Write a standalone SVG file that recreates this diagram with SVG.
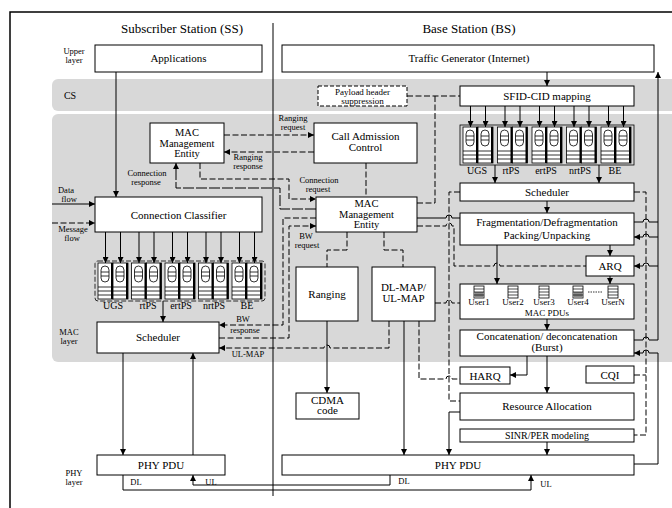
<svg xmlns="http://www.w3.org/2000/svg" width="672" height="508" viewBox="0 0 672 508" font-family="'Liberation Serif', 'Times New Roman', serif">
<defs>
<style>
.t{font-family:"Liberation Serif","Times New Roman",serif;font-size:11px;text-anchor:middle;fill:#000}
.m{font-size:10.5px}
.s{font-size:10px}
.l{font-size:8.5px}
.u{font-size:9px}
.box{fill:#fff;stroke:#000;stroke-width:1}
.ln{fill:none;stroke:#000;stroke-width:1}
.ds{stroke-dasharray:6 2.5}
.ld{stroke-dasharray:11 2}
.arr{marker-end:url(#ah)}
.band{fill:#d8d8d8}
</style>
<marker id="ah" viewBox="0 0 6 6" refX="6" refY="3" markerWidth="6" markerHeight="6" markerUnits="userSpaceOnUse" orient="auto-start-reverse"><path d="M0,0L6,3L0,6z" fill="#000"/></marker>
<g id="qcol">
<rect x="0" y="0" width="15" height="36" fill="#fff" stroke="#000" stroke-width="0.8"/>
<rect x="3" y="3" width="8" height="16" rx="4" fill="#fff" stroke="#000" stroke-width="0.8"/>
<path d="M3,9H11M3,13H11M0,24H15M0,28H15M0,32H15" stroke="#000" stroke-width="0.8" fill="none"/>
<path d="M14,0V36" stroke="#000" stroke-width="2"/>
</g>
<g id="qgrp"><use href="#qcol"/><use href="#qcol" x="15"/></g>
<g id="pdu"><rect width="10" height="12" fill="#fff" stroke="#000" stroke-width="0.8"/><path d="M0,3H10M0,6H10M0,9H10" stroke="#000" stroke-width="0.7"/></g>
<g id="pdug"><rect width="10" height="12" fill="#fff" stroke="#000" stroke-width="0.8"/><rect x="0.4" y="6" width="9.2" height="5.6" fill="#8a8a8a"/><path d="M0,3H10M0,6H10M0,9H10" stroke="#000" stroke-width="0.7"/></g>
</defs>

<rect width="672" height="508" fill="#fff"/>
<!-- bands -->
<rect class="band" x="52" y="79" width="640" height="32" rx="6"/>
<rect class="band" x="52" y="114" width="640" height="248" rx="6"/>
<path d="M10,508V12H672" fill="none" stroke="#000" stroke-width="1.5"/>

<!-- layer labels -->
<g id="layer-labels">
<text class="t" x="182" y="33" style="font-size:13px">Subscriber Station (SS)</text>
<text class="t" x="469" y="33" style="font-size:13px">Base Station (BS)</text>
<text class="t l" x="74" y="54">Upper</text><text class="t l" x="74" y="63">layer</text>
<text class="t s" x="70" y="99">CS</text>
<text class="t l" x="69" y="335">MAC</text><text class="t l" x="69" y="344">layer</text>
<text class="t l" x="74" y="476">PHY</text><text class="t l" x="74" y="485">layer</text>
</g>

<!-- connectors -->
<g id="connectors">
<path class="ln" d="M273,23V496"/>
<!-- SS -->
<path class="ln arr" d="M116,72V197"/>
<path class="ln arr" d="M52,204H95"/>
<path class="ln ds arr" d="M52,223H95"/>
<path class="ln arr" d="M105.5,232V263"/><path class="ln arr" d="M120.5,232V263"/>
<path class="ln arr" d="M139,232V263"/><path class="ln arr" d="M154,232V263"/>
<path class="ln arr" d="M172.5,232V263"/><path class="ln arr" d="M187.5,232V263"/>
<path class="ln arr" d="M206,232V263"/><path class="ln arr" d="M221,232V263"/>
<path class="ln arr" d="M239.5,232V263"/><path class="ln arr" d="M254.5,232V263"/>
<path class="ln arr" d="M163,301V322"/>
<path class="ln arr" d="M123,353V455"/>
<path class="ln arr" d="M193,455V353"/>
<path class="ln ds arr" d="M224,135H314"/>
<path class="ln ds arr" d="M314,152H224"/>
<path class="ln ds arr" d="M200,163V179H289V199H316"/>
<path class="ln ld arr" d="M316,209H280V188H176V163"/>
<path class="ln ds arr" d="M316,218H283V325H219"/>
<path class="ln ds arr" d="M219,338H289V226H316"/>
<path class="ln ds arr" d="M389,321V348H330A3,3 0 0 0 324,348H219"/>
<!-- BS -->
<path class="ln arr" d="M547,72V86"/>
<path class="ln ds" d="M407,96H460M435,96V203H417"/>
<path class="ln ds" d="M366,163V197"/>
<path class="ln arr" d="M470.5,106V127"/><path class="ln arr" d="M485.5,106V127"/>
<path class="ln arr" d="M505,106V127"/><path class="ln arr" d="M520,106V127"/>
<path class="ln arr" d="M539.5,106V127"/><path class="ln arr" d="M554.5,106V127"/>
<path class="ln arr" d="M574,106V127"/><path class="ln arr" d="M589,106V127"/>
<path class="ln arr" d="M608.5,106V127"/><path class="ln arr" d="M623.5,106V127"/>
<path class="ln arr" d="M495,165V183"/><path class="ln arr" d="M599,165V183"/>
<path class="ln arr" d="M547,201V213"/>
<path class="ln arr" d="M610,245V256"/>
<path class="ln arr" d="M497,245V284"/>
<path class="ln arr" d="M610,276V284"/>
<path class="ln arr" d="M547,319V330"/>
<path class="ln arr" d="M547,356V393"/>
<path class="ln arr" d="M527,356V375H510"/>
<path class="ln arr" d="M547,442V455"/>
<path class="ln arr" d="M460,412H449V455"/>
<path class="ln arr" d="M404,321V455"/>
<path class="ln ds" d="M347,232V250H327V267"/>
<path class="ln ds" d="M384,232V250H403V267"/>
<path class="ln arr" d="M327,321V393"/>
<path class="ln ds" d="M419,321V379H446A3,3 0 0 1 452,379H460"/>
<path class="ln ds" d="M435,303H446A3,3 0 0 1 452,303H460"/>
<path class="ln ds" d="M460,192H449V401H460"/>
<path class="ln" d="M417,218H446A3,3 0 0 1 452,218H460"/>
<path class="ln ds" d="M417,226H446A3,3 0 0 1 452,226H454V266H494A3,3 0 0 1 500,266H586"/>
<path class="ln ds" d="M634,192H646V435H634M634,375H646"/>
<path class="ln arr" d="M634,222H643A3,3 0 0 1 649,222H658V72"/>
<path class="ln" d="M658,222V340H649A3,3 0 0 0 643,340H634"/>
<path class="ln arr" d="M658,237H649A3,3 0 0 0 643,237H634"/>
<path class="ln arr" d="M658,266H649A3,3 0 0 0 643,266H634"/>
<path class="ln arr" d="M634,464H658V353H649A3,3 0 0 0 643,353H634"/>
<!-- PHY links -->
<path class="ln arr" d="M123,475V490H531V475"/>
<path class="ln arr" d="M390,475V485H193V475"/>
</g>

<!-- labels on connectors -->
<g id="connector-labels">
<text class="t l" x="293" y="121">Ranging</text><text class="t l" x="293" y="130">request</text>
<text class="t l" x="248" y="160">Ranging</text><text class="t l" x="248" y="169">response</text>
<text class="t l" x="147" y="176">Connection</text><text class="t l" x="146" y="185">response</text>
<text class="t l" x="319" y="183">Connection</text><text class="t l" x="318" y="192">request</text>
<text class="t l" x="66" y="193">Data</text><text class="t l" x="69" y="202">flow</text>
<text class="t l" x="73" y="232">Message</text><text class="t l" x="72" y="241">flow</text>
<text class="t l" x="306" y="239">BW</text><text class="t l" x="307" y="248">request</text>
<text class="t l" x="243" y="322">BW</text><text class="t l" x="245" y="333">response</text>
<text class="t l" x="248" y="357">UL-MAP</text>
<text class="t l" x="136" y="485">DL</text><text class="t l" x="211" y="485">UL</text>
<text class="t l" x="404" y="484">DL</text><text class="t l" x="546" y="487">UL</text>
</g>

<!-- SS nodes -->
<g id="ss-applications"><rect class="box" x="95" y="45" width="167" height="27"/><text class="t" x="178.5" y="62">Applications</text></g>
<g id="ss-mac-mgmt"><rect class="box" x="150" y="123" width="74" height="40"/><text class="t m" x="187" y="136">MAC</text><text class="t m" x="187" y="146.5">Management</text><text class="t m" x="187" y="157">Entity</text></g>
<g id="ss-classifier"><rect class="box" x="95" y="197" width="167" height="35"/><text class="t" x="178.5" y="218.5">Connection Classifier</text></g>
<g id="ss-queues">
<rect x="95" y="261" width="170" height="40" rx="3" fill="none" stroke="#000" stroke-width="0.8" stroke-dasharray="5 2"/>
<use href="#qgrp" x="98" y="263"/><use href="#qgrp" x="131.5" y="263"/><use href="#qgrp" x="165" y="263"/><use href="#qgrp" x="198.5" y="263"/><use href="#qgrp" x="232" y="263"/>
<text class="t s" x="113" y="309">UGS</text><text class="t s" x="148" y="309">rtPS</text><text class="t s" x="181" y="309">ertPS</text><text class="t s" x="214" y="309">nrtPS</text><text class="t s" x="247" y="309">BE</text>
</g>
<g id="ss-scheduler"><rect class="box" x="97" y="322" width="122" height="31"/><text class="t" x="158" y="341">Scheduler</text></g>
<g id="ss-phy"><rect class="box" x="97" y="455" width="128" height="20"/><text class="t" x="161" y="469">PHY PDU</text></g>

<!-- BS nodes -->
<g id="bs-traffic"><rect class="box" x="282" y="45" width="372" height="27"/><text class="t" x="469" y="62">Traffic Generator (Internet)</text></g>
<g id="bs-payload"><rect x="318" y="86" width="89" height="20" fill="#fff" stroke="#000" stroke-dasharray="4 2"/><text class="t" x="362.5" y="94.5" style="font-size:9px">Payload header</text><text class="t" x="362.5" y="103.5" style="font-size:9px">suppression</text></g>
<g id="bs-sfid"><rect class="box" x="460" y="86" width="174" height="20"/><text class="t" x="547" y="99.5">SFID-CID mapping</text></g>
<g id="bs-cac"><rect class="box" x="314" y="123" width="103" height="40"/><text class="t" x="365.5" y="140">Call Admission</text><text class="t" x="365.5" y="151">Control</text></g>
<g id="bs-queues">
<rect x="460" y="125" width="174" height="40" fill="none" stroke="#000" stroke-width="0.8"/>
<use href="#qgrp" x="463" y="127"/><use href="#qgrp" x="497.5" y="127"/><use href="#qgrp" x="532" y="127"/><use href="#qgrp" x="566.5" y="127"/><use href="#qgrp" x="601" y="127"/>
<text class="t s" x="477" y="174">UGS</text><text class="t s" x="511" y="174">rtPS</text><text class="t s" x="546" y="174">ertPS</text><text class="t s" x="580" y="174">nrtPS</text><text class="t s" x="615" y="174">BE</text>
</g>
<g id="bs-scheduler"><rect class="box" x="460" y="183" width="174" height="18"/><text class="t" x="547" y="195.5">Scheduler</text></g>
<g id="bs-mac-mgmt"><rect class="box" x="316" y="197" width="101" height="35"/><text class="t m" x="366.5" y="207">MAC</text><text class="t m" x="366.5" y="217.5">Management</text><text class="t m" x="366.5" y="228">Entity</text></g>
<g id="bs-frag"><rect class="box" x="460" y="213" width="174" height="32"/><text class="t" x="547" y="226">Fragmentation/Defragmentation</text><text class="t" x="547" y="238.5">Packing/Unpacking</text></g>
<g id="bs-arq"><rect class="box" x="586" y="256" width="48" height="20"/><text class="t" x="610" y="270">ARQ</text></g>
<g id="bs-ranging"><rect class="box" x="296" y="267" width="62" height="54"/><text class="t" x="327" y="298">Ranging</text></g>
<g id="bs-dlmap"><rect class="box" x="372" y="267" width="63" height="54"/><text class="t" x="403.5" y="291">DL-MAP/</text><text class="t" x="403.5" y="302">UL-MAP</text></g>
<g id="bs-macpdus"><rect class="box" x="460" y="284" width="174" height="35"/>
<use href="#pdug" x="474" y="286"/><use href="#pdu" x="508" y="286"/><use href="#pdu" x="539" y="286"/><use href="#pdug" x="573" y="286"/><use href="#pdu" x="608" y="286"/>
<path d="M588,292H603" stroke="#000" stroke-width="0.8" stroke-dasharray="1.5 1"/>
<text class="t u" x="479" y="305">User1</text><text class="t u" x="513" y="305">User2</text><text class="t u" x="544" y="305">User3</text><text class="t u" x="578" y="305">User4</text><text class="t u" x="613" y="305">UserN</text>
<text class="t u" x="547" y="316">MAC PDUs</text></g>
<g id="bs-concat"><rect class="box" x="460" y="330" width="174" height="26"/><text class="t" x="547" y="340">Concatenation/ deconcatenation</text><text class="t" x="547" y="351">(Burst)</text></g>
<g id="bs-harq"><rect class="box" x="460" y="367" width="50" height="17"/><text class="t" x="485" y="379.5">HARQ</text></g>
<g id="bs-cqi"><rect class="box" x="586" y="366" width="48" height="17"/><text class="t" x="610" y="378.5">CQI</text></g>
<g id="bs-cdma"><rect class="box" x="296" y="393" width="63" height="26"/><text class="t" x="327.5" y="403.5">CDMA</text><text class="t" x="327.5" y="414">code</text></g>
<g id="bs-ra"><rect class="box" x="460" y="393" width="174" height="27"/><text class="t" x="547" y="410">Resource Allocation</text></g>
<g id="bs-sinr"><rect class="box" x="460" y="429" width="174" height="13"/><text class="t s" x="547" y="439">SINR/PER modeling</text></g>
<g id="bs-phy"><rect class="box" x="282" y="455" width="352" height="20"/><text class="t" x="458" y="469">PHY PDU</text></g>
</svg>
